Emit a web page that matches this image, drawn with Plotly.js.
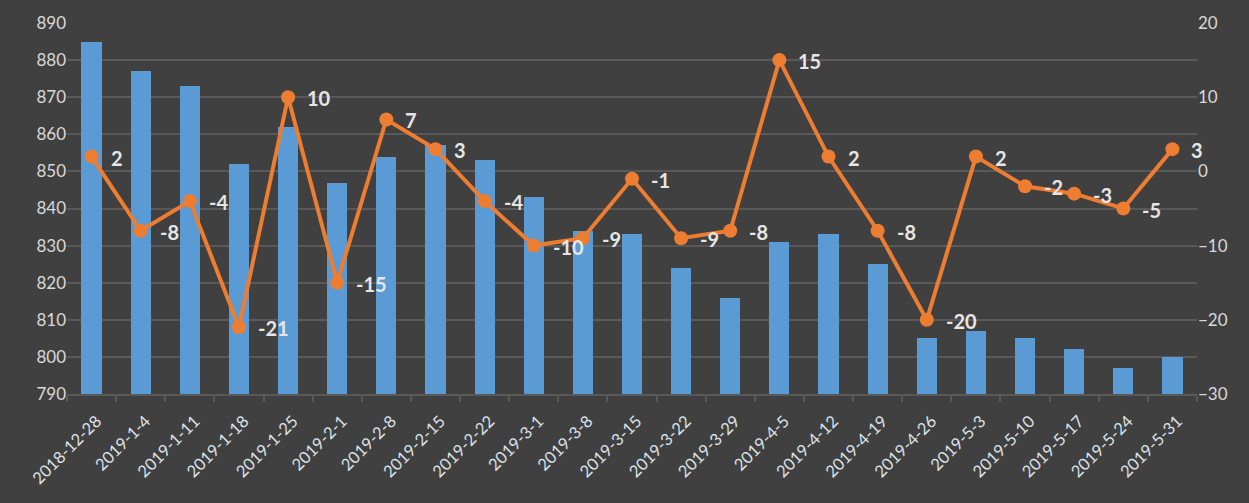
<!DOCTYPE html>
<html><head><meta charset="utf-8">
<script src="https://cdn.plot.ly/plotly-3.0.1.min.js"></script>
<style>html,body{margin:0;padding:0;background:#404040;}#c{width:1249px;height:503px;}</style>
</head><body><div id="c"></div>
<script>
const categories = ["2018-12-28","2019-1-4","2019-1-11","2019-1-18","2019-1-25","2019-2-1","2019-2-8","2019-2-15","2019-2-22","2019-3-1","2019-3-8","2019-3-15","2019-3-22","2019-3-29","2019-4-5","2019-4-12","2019-4-19","2019-4-26","2019-5-3","2019-5-10","2019-5-17","2019-5-24","2019-5-31"];
const barValues = [885,877,873,852,862,847,854,857,853,843,834,833,824,816,831,833,825,805,807,805,802,797,800];
const lineValues = [2,-8,-4,-21,10,-15,7,3,-4,-10,-9,-1,-9,-8,15,2,-8,-20,2,-2,-3,-5,3];

const font = 'Lato, "Open Sans", sans-serif';
const bars = {type:'bar', x:categories, y:barValues, width:0.41,
  marker:{color:'#5b9bd5'}, hoverinfo:'skip', yaxis:'y'};
const line = {type:'scatter', mode:'lines+markers', x:categories, y:lineValues, yaxis:'y2',
  line:{color:'#ed7d31', width:4}, marker:{color:'#ed7d31', size:14}, hoverinfo:'skip'};

const annotations = categories.map((c,i)=>({
  x:c, y:lineValues[i], yref:'y2', xref:'x', text:String(lineValues[i]), showarrow:false,
  xanchor:'left', xshift:17, yshift:-1, font:{family:font, size:20, color:'#e6e6e6', weight:'bold'}
}));

const layout = {
  width:1249, height:503, paper_bgcolor:'#404040', plot_bgcolor:'#404040',
  margin:{l:67, r:52, t:23, b:109}, showlegend:false, bargap:0,
  xaxis:{type:'category', range:[-0.5, categories.length-0.5], autorange:false, showgrid:false, showline:true, linecolor:'#595959', linewidth:2,
    ticks:'outside', tickson:'boundaries', ticklen:6, tickcolor:'#595959', tickwidth:2,
    tickangle:-45, ticklabelstandoff:9, ticklabelshift:5, tickfont:{family:font, size:16.5, color:'#dde3ea'}},
  yaxis:{range:[790,890], dtick:10, showgrid:true, gridcolor:'#595959', gridwidth:2,
    zeroline:false, showline:false, tickfont:{family:font, size:17, color:'#d9d9d9'}, ticklen:0, ticks:''},
  yaxis2:{range:[-30,20], dtick:10, overlaying:'y', side:'right', showgrid:false, zeroline:false,
    showline:false, tickfont:{family:font, size:17, color:'#d9d9d9'}},
  annotations:annotations
};
Plotly.newPlot('c',[bars,line],layout,{displayModeBar:false, staticPlot:true});
</script></body></html>
